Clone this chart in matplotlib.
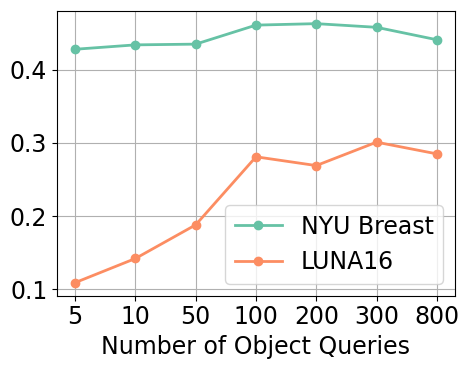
import matplotlib
matplotlib.use("Agg")
import matplotlib.pyplot as plt

queries = ["5", "10", "50", "100", "200", "300", "800"]
nyu = [0.428, 0.434, 0.435, 0.461, 0.463, 0.458, 0.441]
luna = [0.109, 0.142, 0.188, 0.281, 0.269, 0.301, 0.285]

fig = plt.figure(figsize=(4.68, 3.69), dpi=100)
ax = fig.add_axes([0.122, 0.199, 0.850, 0.772])
x = list(range(len(queries)))
ax.plot(x, nyu, marker="o", color="#66c2a5", linewidth=2, markersize=6, label="NYU Breast")
ax.plot(x, luna, marker="o", color="#fc8d62", linewidth=2, markersize=6, label="LUNA16")
ax.set_xticks(x)
ax.set_xticklabels(queries)
ax.tick_params(labelsize=17)
ax.set_yticks([0.1, 0.2, 0.3, 0.4])
ax.grid(True, color="#b0b0b0")
ax.set_xlabel("Number of Object Queries", fontsize=17)
ax.legend(loc="lower right", fontsize=17)
fig.savefig("out.png", dpi=100)
